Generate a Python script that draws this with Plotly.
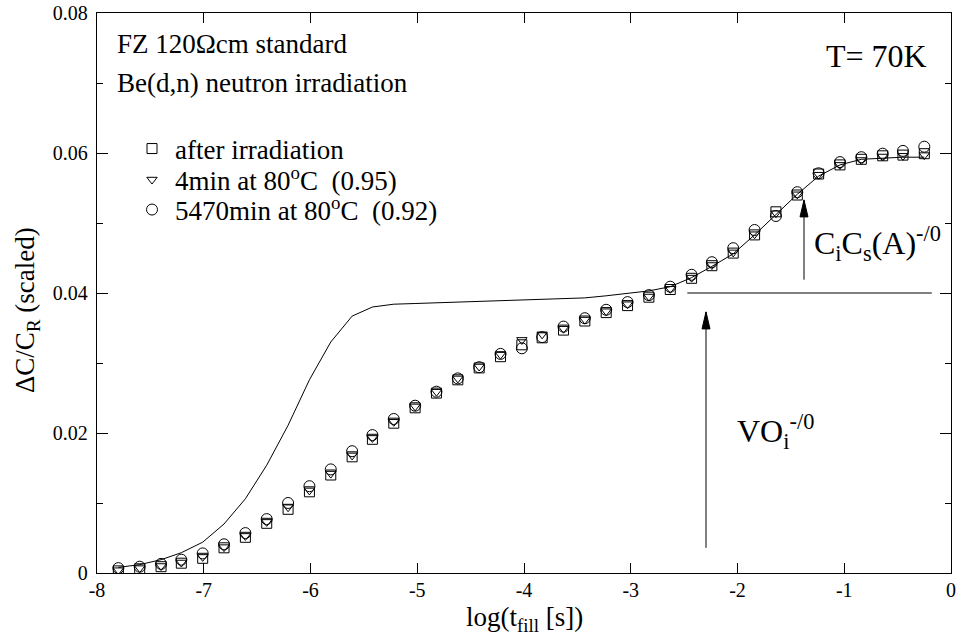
import plotly.graph_objects as go

# ---- data ----
log_t = [-7.80, -7.60, -7.40, -7.21, -7.01, -6.81, -6.61, -6.41, -6.21, -6.01,
         -5.81, -5.61, -5.42, -5.22, -5.02, -4.82, -4.62, -4.42, -4.22, -4.02,
         -3.83, -3.63, -3.43, -3.23, -3.03, -2.83, -2.63, -2.43, -2.24, -2.04,
         -1.84, -1.64, -1.44, -1.24, -1.04, -0.84, -0.64, -0.45, -0.25]

after_irr = [0.0003, 0.0006, 0.0009, 0.0014, 0.0021, 0.0036, 0.0051, 0.0071, 0.0091, 0.0116,
             0.0140, 0.0166, 0.0191, 0.0214, 0.0236, 0.0257, 0.0276, 0.0293, 0.0309, 0.0326,
             0.0336, 0.0347, 0.0360, 0.0372, 0.0382, 0.0394, 0.0405, 0.0421, 0.0439, 0.0457,
             0.0483, 0.0516, 0.0540, 0.0570, 0.0583, 0.0591, 0.0596, 0.0597, 0.0599]

ann_4min = [0.0004, 0.0007, 0.0010, 0.0015, 0.0023, 0.0037, 0.0053, 0.0073, 0.0094, 0.0118,
            0.0142, 0.0168, 0.0193, 0.0216, 0.0238, 0.0259, 0.0278, 0.0295, 0.0312, 0.0333,
            0.0341, 0.0349, 0.0362, 0.0374, 0.0384, 0.0395, 0.0406, 0.0422, 0.0440, 0.0458,
            0.0484, 0.0514, 0.0541, 0.0569, 0.0583, 0.0590, 0.0595, 0.0596, 0.0597]

ann_5470min = [0.0007, 0.0009, 0.0013, 0.0019, 0.0028, 0.0041, 0.0057, 0.0077, 0.0100, 0.0124,
               0.0148, 0.0174, 0.0197, 0.0220, 0.0239, 0.0259, 0.0278, 0.0294, 0.0313, 0.0321,
               0.0337, 0.0352, 0.0364, 0.0376, 0.0387, 0.0397, 0.0409, 0.0426, 0.0444, 0.0464,
               0.0490, 0.0510, 0.0544, 0.0571, 0.0587, 0.0594, 0.0599, 0.0603, 0.0609]

fit_curve = [0.0008, 0.0012, 0.0019, 0.0029, 0.0044, 0.0070, 0.0106, 0.0154, 0.0211, 0.0276,
             0.0330, 0.0367, 0.0380, 0.0384, 0.0385, 0.0386, 0.0386, 0.0387, 0.0388, 0.0389,
             0.0390, 0.0391, 0.0393, 0.0396, 0.0399, 0.0403, 0.0409, 0.0422, 0.0438, 0.0456,
             0.0483, 0.0512, 0.0541, 0.0567, 0.0583, 0.0591, 0.0593, 0.0594, 0.0594]

series_names = ["after irradiation",
                "4min at 80<sup>o</sup>C\u00a0 (0.95)",
                "5470min at 80<sup>o</sup>C\u00a0 (0.92)"]

x_ticks = [-8, -7, -6, -5, -4, -3, -2, -1, 0]
x_ticktext = ["-8", "-7", "-6", "-5", "-4", "-3", "-2", "-1", "0"]
y_ticks = [0, 0.02, 0.04, 0.06, 0.08]
y_ticktext = ["0", "0.02", "0.04", "0.06", "0.08"]

FONT = "Liberation Serif"

fig = go.Figure()

fig.add_trace(go.Scatter(x=log_t, y=fit_curve, mode="lines",
                         line=dict(color="black", width=1), showlegend=False,
                         hoverinfo="skip"))

fig.add_trace(go.Scatter(x=log_t, y=after_irr, mode="markers", name=series_names[0],
                         marker=dict(symbol="square-open", size=10, color="black",
                                     line=dict(width=1, color="black")),
                         legend="legend"))
fig.add_trace(go.Scatter(x=log_t, y=ann_4min, mode="markers", name=series_names[1],
                         marker=dict(symbol="triangle-down-open", size=9, color="black",
                                     line=dict(width=1, color="black")),
                         legend="legend2"))
fig.add_trace(go.Scatter(x=log_t, y=ann_5470min, mode="markers", name=series_names[2],
                         marker=dict(symbol="circle-open", size=11, color="black",
                                     line=dict(width=1, color="black")),
                         legend="legend3"))

# full-window figure (body margin removed by post_script)
W, H = 961, 643
L, R, T, B = 97, 10, 13, 70
pw, ph = W - L - R, H - T - B
PLOT_LEFT = L
PLOT_BOTTOM = T + ph


def px(xp):
    return (xp - PLOT_LEFT) / pw


def py(yp):
    return (PLOT_BOTTOM - yp) / ph


leg_common = dict(font=dict(family=FONT, size=27, color="black"),
                  bgcolor="rgba(0,0,0,0)", borderwidth=0, itemwidth=36,
                  xanchor="left", yanchor="middle", itemsizing="trace")

fig.update_layout(
    width=W, height=H,
    margin=dict(l=L, r=R, t=T, b=B, autoexpand=False),
    paper_bgcolor="white", plot_bgcolor="white",
    font=dict(family=FONT, size=20, color="black"),
    legend=dict(x=px(129), y=py(149), **leg_common),
    legend2=dict(x=px(129), y=py(180), **leg_common),
    legend3=dict(x=px(129), y=py(210), **leg_common),
    xaxis=dict(range=[-8, 0], tickvals=x_ticks, ticktext=x_ticktext,
               ticks="inside", ticklen=10, tickwidth=1, tickcolor="black",
               showline=True, linecolor="black", linewidth=1.3, mirror="ticks",
               showgrid=False, zeroline=False, automargin=False, ticklabelstandoff=-1,
               ticklabeloverflow="allow",
               tickfont=dict(family=FONT, size=20, color="black")),
    yaxis=dict(range=[0, 0.08], tickvals=y_ticks, ticktext=y_ticktext,
               ticks="inside", ticklen=11, tickwidth=1, tickcolor="black",
               minor=dict(dtick=0.01, ticks="inside", ticklen=6, tickcolor="black",
                          showgrid=False),
               showline=True, linecolor="black", linewidth=1.3, mirror="ticks",
               showgrid=False, zeroline=False, ticklabelstandoff=4, automargin=False,
               ticklabeloverflow="allow",
               tickfont=dict(family=FONT, size=20, color="black")),
)


def txt(s, xp, yp, size, xanchor="left", angle=0):
    return dict(text=s, x=px(xp), y=py(yp), xref="paper", yref="paper",
                xanchor=xanchor, yanchor="middle", showarrow=False, textangle=angle,
                font=dict(family=FONT, size=size, color="black"))


annotations = [
    txt("FZ 120\u03a9cm standard", 115, 44, 27),
    txt("Be(d,n) neutron irradiation", 115, 83, 27),
    txt("T= 70K", 929, 56, 32, xanchor="right"),
    txt("VO<sub>i</sub><sup>-/0</sup>", 735, 431, 32),
    txt("C<sub>i</sub>C<sub>s</sub>(A)<sup>-/0</sup>", 812, 243, 32),
    txt("\u0394C/C<sub>R</sub> (scaled)", 27, 310, 27, xanchor="center", angle=-90),
    txt("log(t<sub>fill</sub> [s])", 524, 619, 27, xanchor="center"),
]
fig.update_layout(annotations=annotations)

# horizontal reference line
fig.add_shape(type="line", x0=-2.47, x1=-0.18, y0=0.04, y1=0.04, xref="x", yref="y",
              line=dict(color="black", width=1))

# arrows: shaft + narrow filled head
arrows = [(-2.295, 0.0036, 0.0373), (-1.377, 0.0419, 0.0533)]
for ax_, y_from, y_tip in arrows:
    fig.add_shape(type="line", x0=ax_, x1=ax_, y0=y_from, y1=y_tip, xref="x", yref="y",
                  line=dict(color="black", width=1))
    fig.add_shape(type="path", xref="x", yref="y", xsizemode="pixel", ysizemode="pixel",
                  xanchor=ax_, yanchor=y_tip, path="M0,0 L-4,-17 L4,-17 Z",
                  fillcolor="black", line=dict(color="black", width=1))

post = ("document.body.style.margin='0';document.body.style.padding='0';"
        "document.documentElement.style.overflow='hidden';")
fig.write_html("out.html", post_script=post,
               config={"displayModeBar": False, "staticPlot": True})
